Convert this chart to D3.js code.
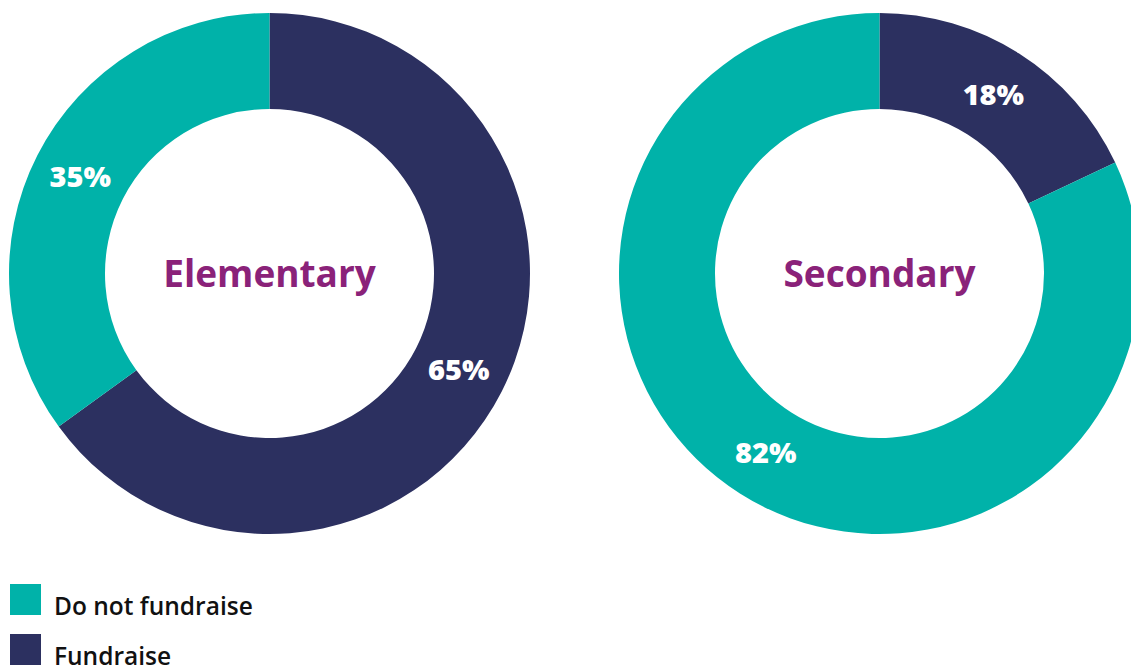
<!DOCTYPE html>
<html>
<head>
  <meta charset="UTF-8">
  <title>Fundraising</title>
  <style>
    body { margin: 0; background: #fff; }
    svg { display: block; }
  </style>
</head>
<body>
  <div id="chart"></div>
  <script src="https://d3js.org/d3.v7.min.js"></script>
  <script>
    // data
    const groups = ["Elementary", "Secondary"];
    const categories = ["Fundraise", "Do not fundraise"];
    const elementaryValues = [65, 35];
    const secondaryValues = [18, 82];
    const legendOrder = ["Do not fundraise", "Fundraise"];

    const width = 1131;
    const height = 667;
    const outerR = 260.5;
    const innerR = 164.5;
    const centers = [[269.5, 273.5], [879.5, 273.5]];
    const font = "'Open Sans', sans-serif";

    const color = d3.scaleOrdinal()
      .domain(categories)
      .range(["#2c3060", "#00b2a9"]);

    const svg = d3.select("#chart")
      .append("svg")
      .attr("width", width)
      .attr("height", height);

    const pie = d3.pie().sort(null).value(d => d.value);
    const arc = d3.arc().innerRadius(innerR).outerRadius(outerR);

    const allValues = [elementaryValues, secondaryValues];

    groups.forEach(function(name, i) {
      const data = categories.map((c, j) => ({ cat: c, value: allValues[i][j] }));
      const g = svg.append("g")
        .attr("transform", "translate(" + centers[i][0] + "," + centers[i][1] + ")");

      g.selectAll("path")
        .data(pie(data))
        .enter()
        .append("path")
        .attr("d", arc)
        .attr("fill", d => color(d.data.cat));

      g.selectAll("text.pct")
        .data(pie(data))
        .enter()
        .append("text")
        .attr("class", "pct")
        .attr("transform", d => "translate(" + arc.centroid(d) + ")")
        .attr("text-anchor", "middle")
        .attr("dy", "0.36em")
        .style("font-family", font)
        .style("font-weight", 800)
        .style("font-size", "29px")
        .attr("fill", "#fff")
        .text(d => d.data.value + "%");

      g.append("text")
        .attr("text-anchor", "middle")
        .attr("dy", "0.36em")
        .style("font-family", font)
        .style("font-weight", 700)
        .style("font-size", "37px")
        .attr("fill", "#8a2279")
        .text(name);
    });

    // legend
    const item = svg.append("g")
      .selectAll("g")
      .data(legendOrder)
      .enter()
      .append("g")
      .attr("transform", (d, i) => "translate(10," + (584 + i * 50) + ")");

    item.append("rect")
      .attr("width", 31)
      .attr("height", 31)
      .attr("fill", d => color(d));

    item.append("text")
      .attr("x", 44)
      .attr("y", 31)
      .style("font-family", font)
      .style("font-weight", 600)
      .style("font-size", "24.5px")
      .attr("fill", "#111")
      .text(d => d);
  </script>
</body>
</html>
